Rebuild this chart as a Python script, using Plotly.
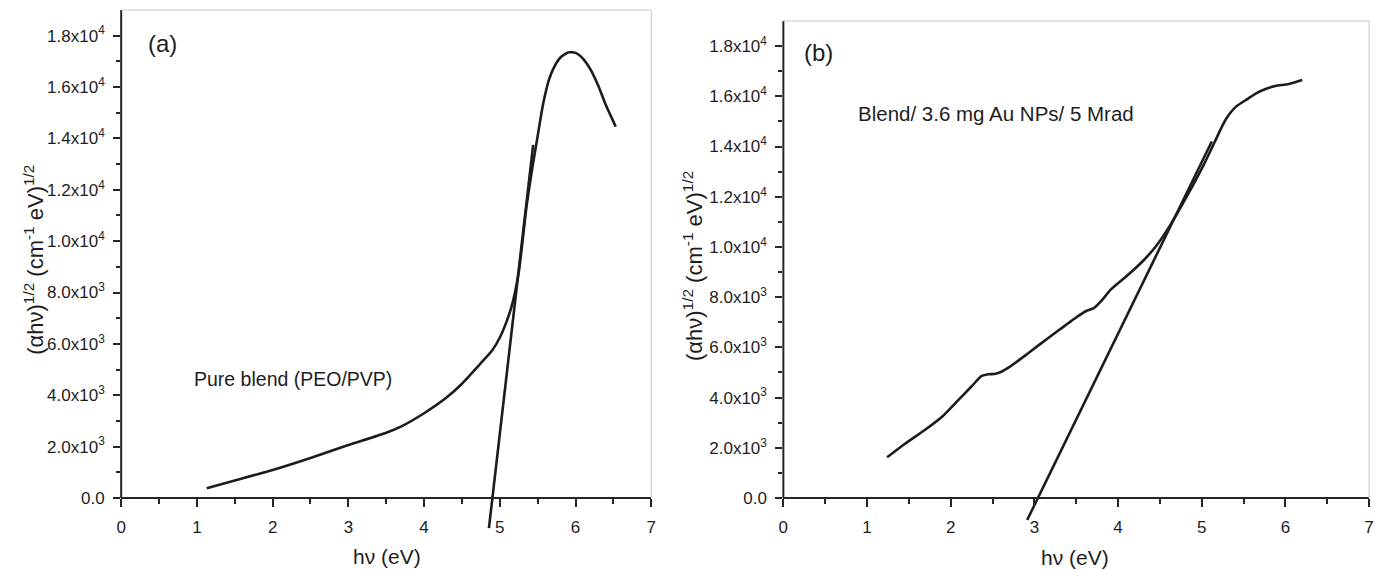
import plotly.graph_objects as go

# ---------------- data ----------------
a_hv = [1.13, 1.5, 2.0, 2.5, 3.0, 3.5, 3.7, 4.0, 4.3, 4.5, 4.75, 4.9, 5.0, 5.08, 5.15,
        5.2, 5.25, 5.3, 5.35, 5.41, 5.46, 5.5, 5.55, 5.59, 5.65, 5.72, 5.8, 5.9, 6.0, 6.1,
        6.2, 6.3, 6.4, 6.53]
a_val = [380, 680, 1090, 1560, 2060, 2540, 2790, 3300, 3920, 4450, 5250, 5750, 6250, 6800, 7400,
         8000, 8800, 10000, 11300, 12500, 13400, 14100, 15000, 15600, 16300, 16800, 17150, 17350, 17330, 17100,
         16670, 16050, 15300, 14460]
a_tan_hv = [4.856, 5.44]
a_tan_val = [-1170, 13750]

b_hv = [1.24, 1.45, 1.69, 1.9, 2.09, 2.25, 2.37, 2.45, 2.52, 2.6, 2.68, 2.88, 3.08, 3.27, 3.4,
        3.51, 3.62, 3.71, 3.8, 3.91, 4.1, 4.3, 4.46, 4.62, 4.82, 5.02, 5.15, 5.25, 5.3, 5.41,
        5.55, 5.65, 5.77, 5.88, 6.04, 6.2]
b_val = [1620, 2150, 2710, 3250, 3900, 4450, 4860, 4930, 4940, 5020, 5170, 5650, 6160, 6630, 6950,
         7220, 7450, 7560, 7850, 8290, 8830, 9450, 10060, 10850, 12000, 13250, 14150, 14850, 15150, 15590,
         15900, 16120, 16300, 16410, 16490, 16650]
b_tan_hv = [2.914, 5.12]
b_tan_val = [-876, 14200]

x_ticks = [0, 1, 2, 3, 4, 5, 6, 7]
x_minor = [0.5, 1.5, 2.5, 3.5, 4.5, 5.5, 6.5]
y_ticks = [0, 2000, 4000, 6000, 8000, 10000, 12000, 14000, 16000, 18000]
y_ticktext = ["0.0", "2.0x10<sup>3</sup>", "4.0x10<sup>3</sup>", "6.0x10<sup>3</sup>",
              "8.0x10<sup>3</sup>", "1.0x10<sup>4</sup>", "1.2x10<sup>4</sup>",
              "1.4x10<sup>4</sup>", "1.6x10<sup>4</sup>", "1.8x10<sup>4</sup>"]
y_minor = [1000, 3000, 5000, 7000, 9000, 11000, 13000, 15000, 17000]

x_title = "h\u03bd (eV)"
y_title = "(\u03b1h\u03bd)<sup>1/2</sup> (cm<sup>-1</sup> eV)<sup>1/2</sup>"

# ---------------- layout geometry ----------------
W, H = 1389, 570
def fx(px):
    return px / W
def fy(py):
    return 1 - py / H

YMIN, YMAX = -1300, 19000
TICKFONT = dict(family="Liberation Sans, Arial", size=17, color="#1e1e1e")
TXTFONT = dict(family="Liberation Sans, Arial", color="#1e1e1e")
AX = "#262626"
FRAME = "#c9c9c9"
LINE = dict(color="#1e1b1b", width=2.6)

panels = [
    dict(l=117, r=651, t=10, z=498),
    dict(l=784, r=1374, t=21, z=498),
]

fig = go.Figure()
fig.add_trace(go.Scatter(x=a_hv, y=a_val, mode="lines", line=dict(shape="spline", smoothing=0.6, **LINE),
                         xaxis="x", yaxis="y", showlegend=False))
fig.add_trace(go.Scatter(x=a_tan_hv, y=a_tan_val, mode="lines", line=LINE,
                         xaxis="x", yaxis="y", showlegend=False))
fig.add_trace(go.Scatter(x=b_hv, y=b_val, mode="lines", line=dict(shape="spline", smoothing=0.6, **LINE),
                         xaxis="x2", yaxis="y2", showlegend=False))
fig.add_trace(go.Scatter(x=b_tan_hv, y=b_tan_val, mode="lines", line=LINE,
                         xaxis="x2", yaxis="y2", showlegend=False))

shapes = []
for i, p in enumerate(panels):
    sfx = "" if i == 0 else "2"
    scale = (p["z"] - p["t"]) / YMAX
    bottom_px = p["z"] - YMIN * scale
    fig.layout["xaxis" + sfx] = dict(
        domain=[fx(p["l"]), fx(p["r"])], range=[0, 7], anchor="free", position=fy(p["z"]),
        showline=True, linecolor=AX, linewidth=2, ticks="outside", ticklen=8, tickwidth=1.6,
        tickcolor=AX, tickvals=x_ticks, ticktext=[str(v) for v in x_ticks],
        minor=dict(tickvals=x_minor, ticks="outside", ticklen=5, tickwidth=1.6, tickcolor=AX, showgrid=False),
        showgrid=False, zeroline=False, tickfont=TICKFONT, ticklabelstandoff=6,
    )
    fig.layout["yaxis" + sfx] = dict(
        domain=[fy(bottom_px), fy(p["t"])], range=[YMIN, YMAX], anchor="x" + sfx,
        showline=False, ticks="outside", ticklen=7, tickwidth=1.6, tickcolor=AX,
        tickvals=y_ticks, ticktext=y_ticktext,
        minor=dict(tickvals=y_minor, ticks="outside", ticklen=4, tickwidth=1.6, tickcolor=AX, showgrid=False),
        showgrid=False, zeroline=False, tickfont=TICKFONT, ticklabelstandoff=5,
    )
    shapes.append(dict(type="line", xref="paper", yref="paper", x0=fx(p["l"]), x1=fx(p["l"]),
                       y0=fy(p["z"]), y1=fy(p["t"]), line=dict(color=AX, width=2)))
    shapes.append(dict(type="line", xref="paper", yref="paper", x0=fx(p["l"]), x1=fx(p["r"]),
                       y0=fy(p["t"]), y1=fy(p["t"]), line=dict(color=FRAME, width=1)))
    shapes.append(dict(type="line", xref="paper", yref="paper", x0=fx(p["r"]), x1=fx(p["r"]),
                       y0=fy(p["z"]), y1=fy(p["t"]), line=dict(color=FRAME, width=1)))

annotations = [
    dict(text="(a)", x=fx(159), y=fy(43), font=dict(size=24, **TXTFONT)),
    dict(text="Pure blend (PEO/PVP)", x=fx(188), y=fy(379), xanchor="left", font=dict(size=19.5, **TXTFONT)),
    dict(text="(b)", x=fx(819), y=fy(52), font=dict(size=24, **TXTFONT)),
    dict(text="Blend/ 3.6 mg Au NPs/ 5 Mrad", x=fx(857), y=fy(114), xanchor="left", font=dict(size=20.5, **TXTFONT)),
    dict(text=x_title, x=fx(385), y=fy(556), font=dict(size=21, **TXTFONT)),
    dict(text=x_title, x=fx(1078), y=fy(557), font=dict(size=21, **TXTFONT)),
    dict(text=y_title, x=fx(29), y=fy(260), textangle=-90, font=dict(size=22, **TXTFONT)),
    dict(text=y_title, x=fx(693), y=fy(266), textangle=-90, font=dict(size=22, **TXTFONT)),
]
for a in annotations:
    a.setdefault("xanchor", "center")
    a.update(xref="paper", yref="paper", showarrow=False, yanchor="middle")

fig.update_layout(
    width=W, height=H, margin=dict(l=0, r=0, t=0, b=0),
    paper_bgcolor="white", plot_bgcolor="white",
    shapes=shapes, annotations=annotations,
)
fig.write_html("out.html")
